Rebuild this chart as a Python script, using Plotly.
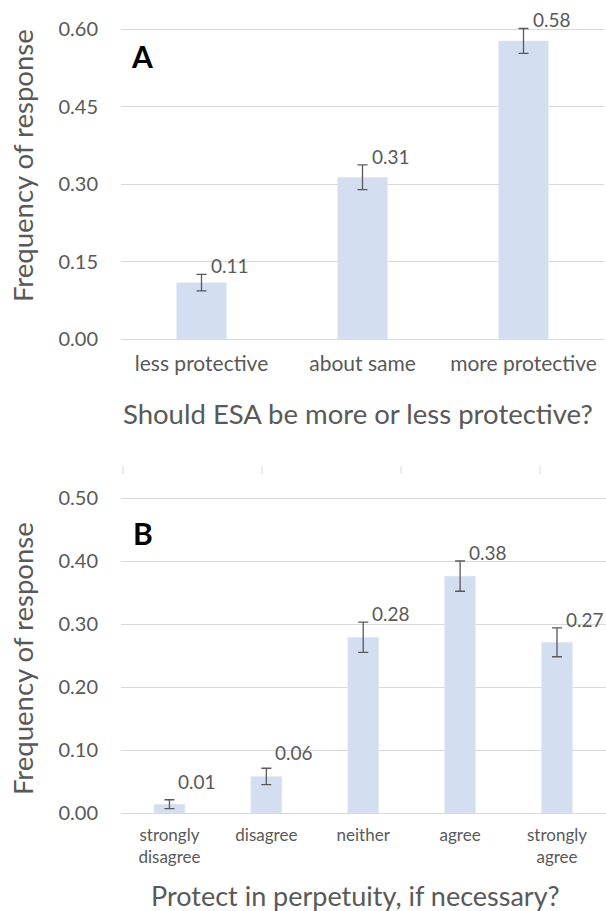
import plotly.graph_objects as go
from plotly.subplots import make_subplots

# Panel A: Should ESA be more or less protective?
cats_a = ["less protective", "about same", "more protective"]
freq_a = [0.109, 0.313, 0.577]
err_a = [0.016, 0.024, 0.024]

# Panel B: Protect in perpetuity, if necessary?
cats_b = ["strongly<br>disagree", "disagree", "neither", "agree", "strongly<br>agree"]
freq_b = [0.014, 0.058, 0.279, 0.376, 0.271]
err_b = [0.007, 0.013, 0.024, 0.024, 0.023]

ticks_a = [0.0, 0.15, 0.30, 0.45, 0.60]
ticks_b = [0.0, 0.10, 0.20, 0.30, 0.40, 0.50]

# extra vertical nudge (px) for the value labels of the shortest bars
lift_a = [0, 0, 0]
lift_b = [10, 7, 0, 0, 0]

W, H = 606, 911
FONT = "Lato"
GREY = "#595959"
BAR = "#D3DEF0"
GRID = "#D9D9D9"

# axis ranges reach a touch above the top gridline so the tallest label stays visible
TOP_A, TOP_B = 0.61, 0.51
PX_A = 310 / 0.60   # pixels per unit, panel A
PX_B = 315 / 0.50   # pixels per unit, panel B

fig = make_subplots(rows=2, cols=1)

fig.add_trace(go.Bar(
    x=cats_a, y=freq_a, marker_color=BAR, width=0.31,
    error_y=dict(type="data", array=err_a, color=GREY, thickness=1.3, width=5),
    showlegend=False, hoverinfo="x+y"), row=1, col=1)
fig.add_trace(go.Bar(
    x=cats_b, y=freq_b, marker_color=BAR, width=0.32,
    error_y=dict(type="data", array=err_b, color=GREY, thickness=1.3, width=5),
    showlegend=False, hoverinfo="x+y"), row=2, col=1)

def px_to_y(p):
    return 1 - p / H

def px_to_x(p):
    return p / W

ann = []
# value labels just right of each error-bar cap
for ax, cats, vals, errs, lifts in (("1", cats_a, freq_a, err_a, lift_a),
                                   ("2", cats_b, freq_b, err_b, lift_b)):
    for c, v, e, l in zip(cats, vals, errs, lifts):
        ann.append(dict(x=c, y=v + e, xref="x" + ax, yref="y" + ax,
                        text=f"{v:.2f}", showarrow=False,
                        xanchor="left", yanchor="bottom",
                        xshift=7, yshift=-5 + l,
                        font=dict(family=FONT, size=19, color=GREY)))

# panel letters
ann.append(dict(x=px_to_x(129), y=px_to_y(56), xref="paper", yref="paper",
                text="<b>A</b>", showarrow=False, xanchor="left", yanchor="middle",
                font=dict(family=FONT, size=30, color="#000000")))
ann.append(dict(x=px_to_x(131), y=px_to_y(533), xref="paper", yref="paper",
                text="<b>B</b>", showarrow=False, xanchor="left", yanchor="middle",
                font=dict(family=FONT, size=30, color="#000000")))

# axis titles
ann.append(dict(x=px_to_x(22), y=px_to_y(166), xref="paper", yref="paper",
                text="Frequency of response", textangle=-90, showarrow=False,
                xanchor="center", yanchor="middle",
                font=dict(family=FONT, size=27.5, color=GREY)))
ann.append(dict(x=px_to_x(22), y=px_to_y(659), xref="paper", yref="paper",
                text="Frequency of response", textangle=-90, showarrow=False,
                xanchor="center", yanchor="middle",
                font=dict(family=FONT, size=27.5, color=GREY)))
ann.append(dict(x=px_to_x(358), y=px_to_y(413), xref="paper", yref="paper",
                text="Should ESA be more or less protective?", showarrow=False,
                xanchor="center", yanchor="middle",
                font=dict(family=FONT, size=27.5, color=GREY)))
ann.append(dict(x=px_to_x(355), y=px_to_y(895), xref="paper", yref="paper",
                text="Protect in perpetuity, if necessary?", showarrow=False,
                xanchor="center", yanchor="middle",
                font=dict(family=FONT, size=27, color=GREY)))

# faint stray tick marks above panel B
shapes = []
for xp in (123, 262, 401, 540):
    shapes.append(dict(type="line", xref="paper", yref="paper",
                       x0=px_to_x(xp), x1=px_to_x(xp),
                       y0=px_to_y(466), y1=px_to_y(474),
                       line=dict(color="#E6E6E6", width=1.5)))

fig.update_layout(
    width=W, height=H,
    margin=dict(l=0, r=0, t=0, b=0),
    paper_bgcolor="white", plot_bgcolor="white",
    font=dict(family=FONT, color=GREY),
    annotations=ann, shapes=shapes,
    xaxis=dict(domain=[px_to_x(121), px_to_x(604)], showgrid=False, showline=False,
               ticks="", tickfont=dict(family=FONT, size=21, color=GREY),
               ticklabelstandoff=10, automargin=False, anchor="y"),
    yaxis=dict(domain=[px_to_y(339), px_to_y(339 - TOP_A * PX_A)], range=[0, TOP_A],
               tickvals=ticks_a, tickformat=".2f", showgrid=True, gridcolor=GRID,
               gridwidth=1.2, zeroline=True, zerolinecolor=GRID, zerolinewidth=1.2,
               showline=False, ticks="",
               tickfont=dict(family=FONT, size=20, color=GREY),
               ticklabelstandoff=22, automargin=False, anchor="x"),
    xaxis2=dict(domain=[px_to_x(121), px_to_x(606)], showgrid=False, showline=False,
                ticks="", tickfont=dict(family=FONT, size=17, color=GREY),
                ticklabelstandoff=10, automargin=False, anchor="y2"),
    yaxis2=dict(domain=[px_to_y(813), px_to_y(813 - TOP_B * PX_B)], range=[0, TOP_B],
                tickvals=ticks_b, tickformat=".2f", showgrid=True, gridcolor=GRID,
                gridwidth=1.2, zeroline=True, zerolinecolor=GRID, zerolinewidth=1.2,
                showline=False, ticks="",
                tickfont=dict(family=FONT, size=20, color=GREY),
                ticklabelstandoff=22, automargin=False, anchor="x2"),
)

fig.write_html("out.html")
